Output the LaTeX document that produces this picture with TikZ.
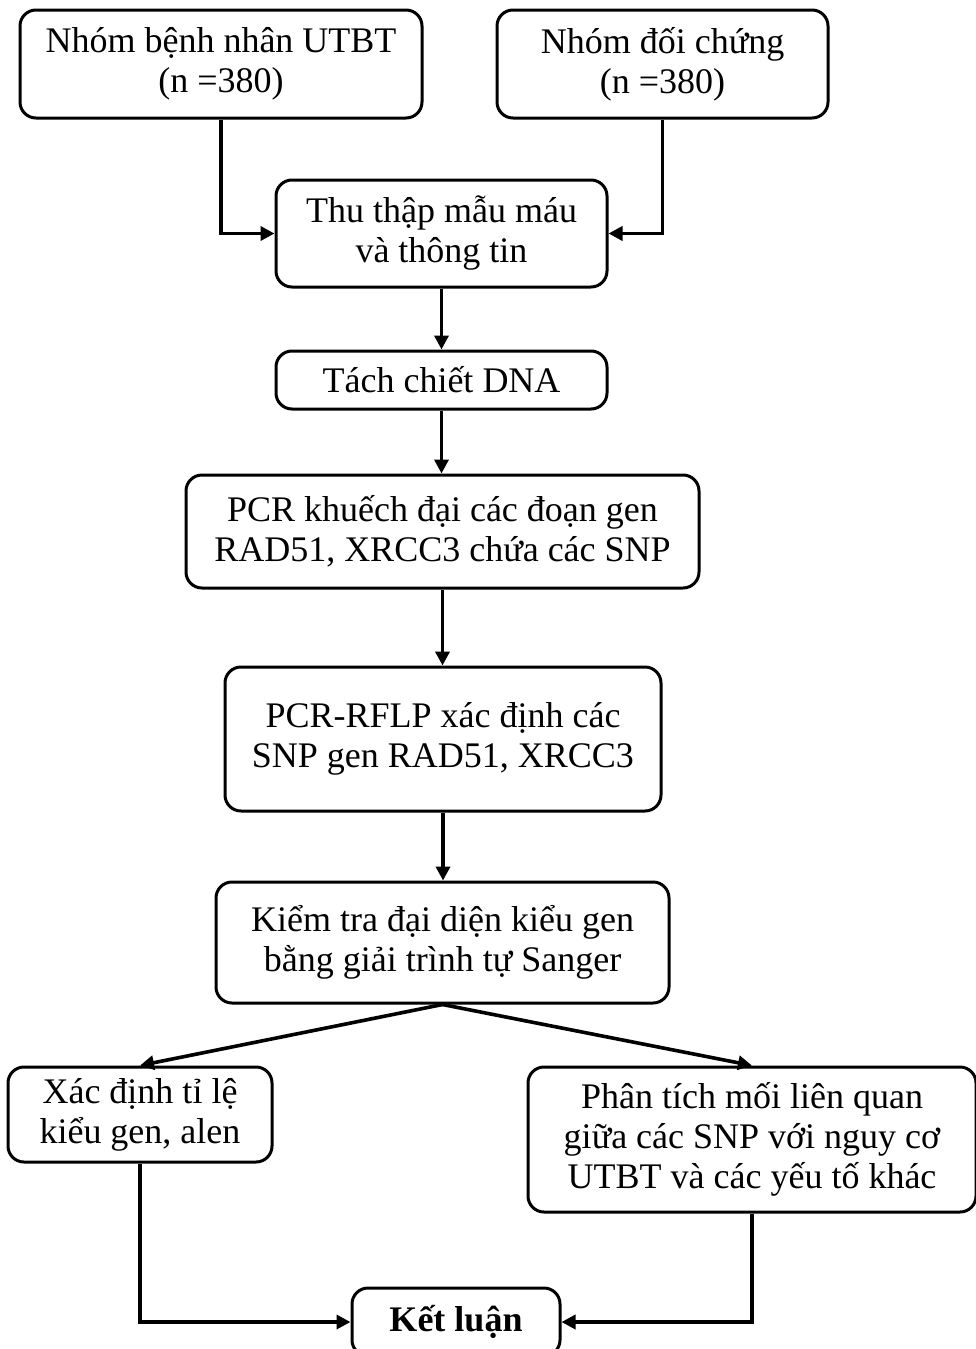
\documentclass[tikz,border=0pt]{standalone}
\usepackage{fontspec}
\setmainfont{Liberation Serif}
\usetikzlibrary{arrows.meta}
\begin{document}
\begin{tikzpicture}[x=1pt,y=-1pt,
  box/.style={draw,line width=3pt,rounded corners=16pt,inner sep=0pt,align=center,
    font=\fontsize{36}{40}\selectfont},
  arr/.style={line width=3.6pt,-{Triangle[length=14pt,width=14pt]}}]
\useasboundingbox (0,0) rectangle (976,1349);
\node[box,minimum width=402pt,minimum height=108pt] (b1) at (221,64) {Nhóm bệnh nhân UTBT\\(n =380)};
\node[box,minimum width=331pt,minimum height=108pt] (b2) at (662.5,64) {Nhóm đối chứng\\(n =380)};
\node[box,minimum width=331pt,minimum height=107pt] (b3) at (441.5,233.5) {Thu thập mẫu máu\\và thông tin};
\node[box,minimum width=331pt,minimum height=58pt] (b4) at (441.5,380) {Tách chiết DNA};
\node[box,minimum width=513pt,minimum height=113pt] (b5) at (442.5,531.5) {PCR khuếch đại các đoạn gen\\RAD51, XRCC3 chứa các SNP};
\node[box,minimum width=436pt,minimum height=144pt] (b6) at (443,739) {PCR-RFLP xác định các\\SNP gen RAD51, XRCC3};
\node[box,minimum width=453pt,minimum height=121pt] (b7) at (442.5,942.5) {Kiểm tra đại diện kiểu gen\\bằng giải trình tự Sanger};
\node[box,minimum width=264pt,minimum height=95pt] (b8) at (140,1114.5) {Xác định tỉ lệ\\kiểu gen, alen};
\node[box,minimum width=448pt,minimum height=145pt] (b9) at (752,1139.5) {Phân tích mối liên quan\\giữa các SNP với nguy cơ\\UTBT và các yếu tố khác};
\node[box,minimum width=208pt,minimum height=68pt] (b10) at (456,1322) {\bfseries Kết luận};
\draw[arr] (b1.south) |- (b3.west);
\draw[arr] (b2.south) |- (b3.east);
\draw[arr] (b3.south) -- (b3.south |- b4.north);
\draw[arr] (b4.south) -- (b4.south |- b5.north);
\draw[arr] (b5.south) -- (b5.south |- b6.north);
\draw[arr] (b6.south) -- (b6.south |- b7.north);
\draw[arr] (b7.south) -- (b8.north);
\draw[arr] (b7.south) -- (b9.north);
\draw[arr] (b8.south) |- (b10.west);
\draw[arr] (b9.south) |- (b10.east);
\end{tikzpicture}
\end{document}
